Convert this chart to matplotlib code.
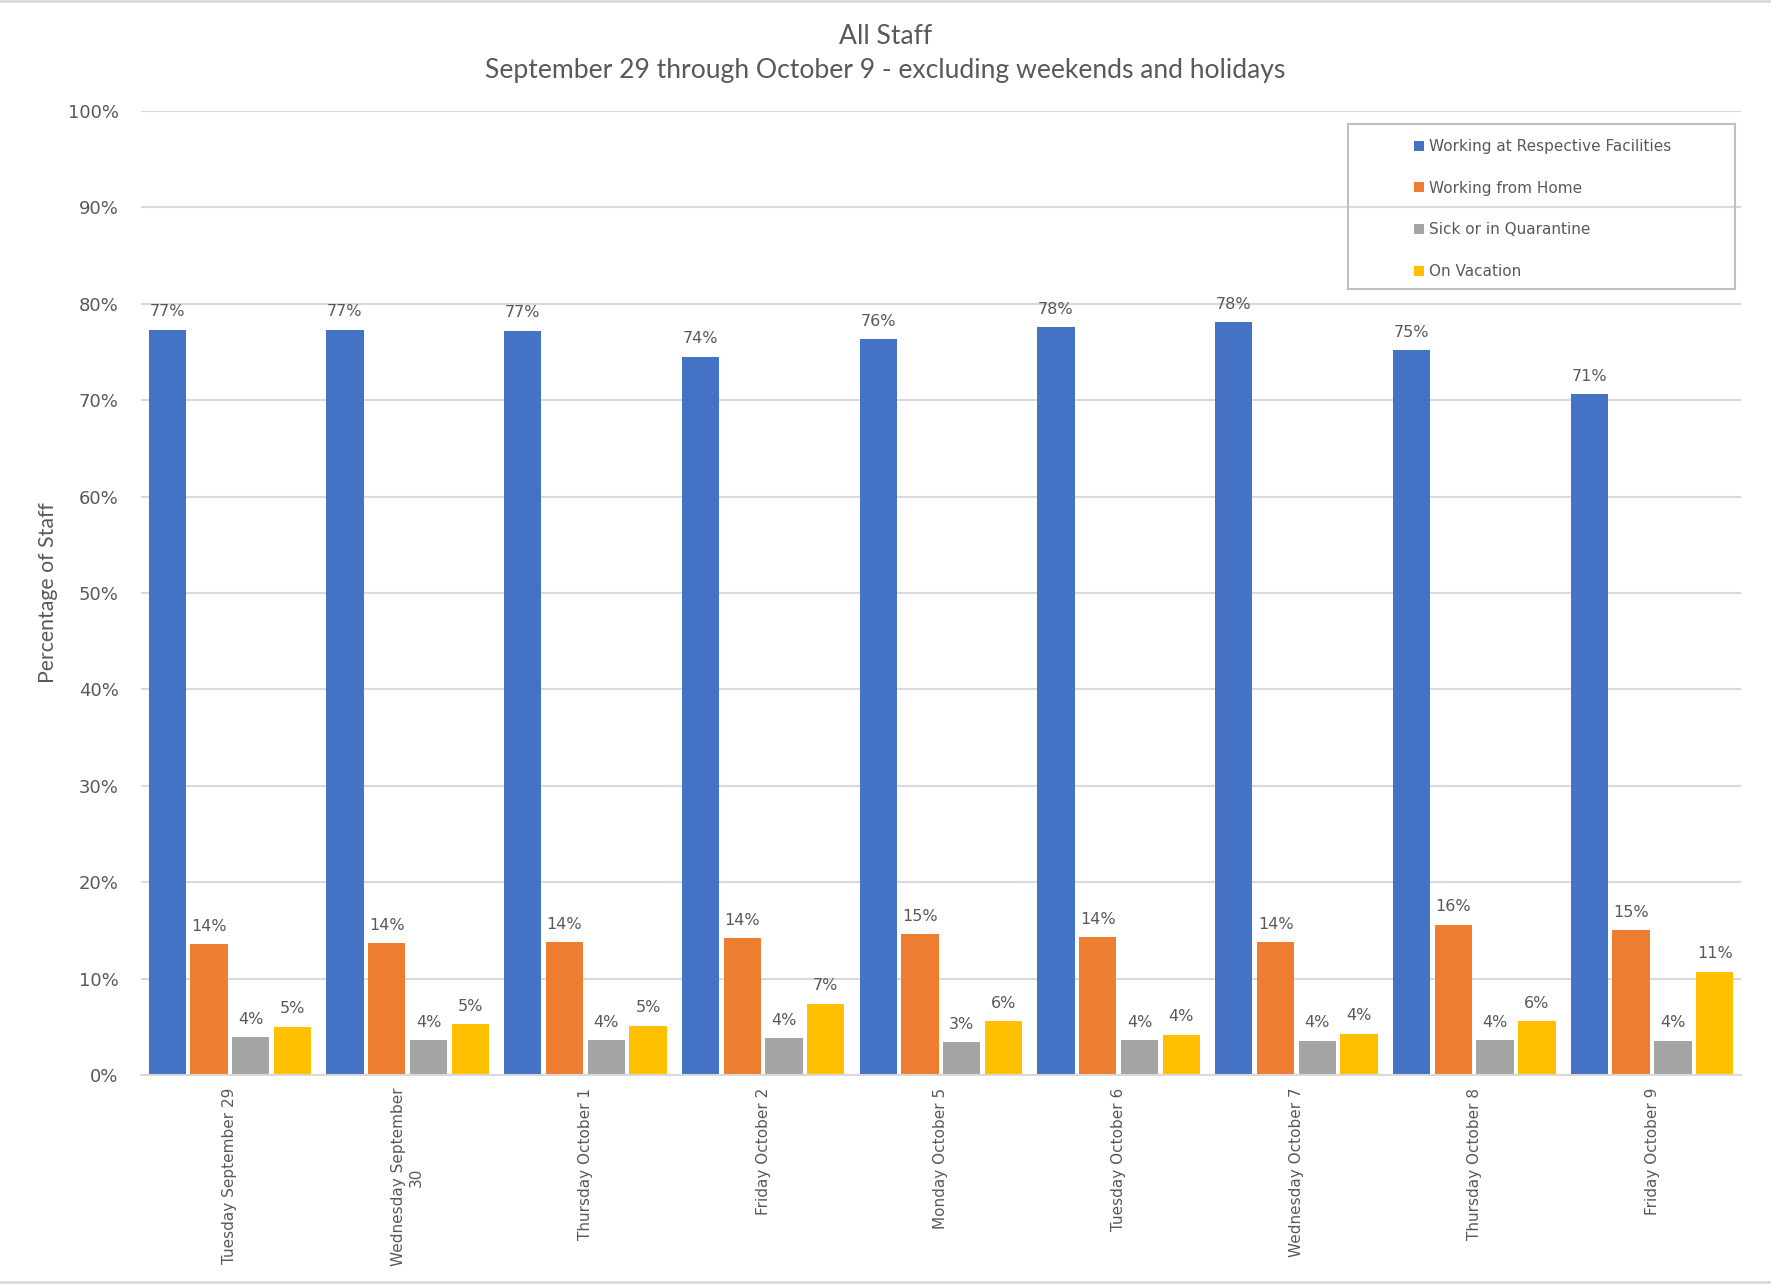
import matplotlib
matplotlib.use("Agg")
import matplotlib.pyplot as plt
from matplotlib.patches import Rectangle
import numpy as np

# Staff status by working day (percent of all staff)
days = [
    "Tuesday September 29",
    "Wednesday September\n30",
    "Thursday October 1",
    "Friday October 2",
    "Monday October 5",
    "Tuesday October 6",
    "Wednesday October 7",
    "Thursday October 8",
    "Friday October 9",
]
series_names = [
    "Working at Respective Facilities",
    "Working from Home",
    "Sick or in Quarantine",
    "On Vacation",
]
at_facilities = [77.3, 77.3, 77.2, 74.5, 76.3, 77.6, 78.1, 75.2, 70.6]
from_home = [13.6, 13.7, 13.8, 14.2, 14.6, 14.3, 13.8, 15.6, 15.0]
sick_quarantine = [3.9, 3.6, 3.6, 3.8, 3.4, 3.6, 3.55, 3.6, 3.55]
on_vacation = [5.0, 5.3, 5.1, 7.4, 5.6, 4.2, 4.3, 5.6, 10.7]
y_ticks = [0, 10, 20, 30, 40, 50, 60, 70, 80, 90, 100]

colors = ["#4472C4", "#ED7D31", "#A5A5A5", "#FFC000"]
text_color = "#595959"
grid_color = "#D9D9D9"

fig = plt.figure(figsize=(17.71, 12.85), dpi=100)
ax = fig.add_axes([0.0796, 0.1634, 0.9034, 0.7502])

x = np.arange(len(days))
bar_w = 0.21
step = 0.235
all_series = [at_facilities, from_home, sick_quarantine, on_vacation]
for i, (vals, name, col) in enumerate(zip(all_series, series_names, colors)):
    pos = x + (i - 1.5) * step
    bars = ax.bar(pos, vals, width=bar_w, color=col, label=name, zorder=3)
    for b, v in zip(bars, vals):
        ax.annotate(f"{v:.0f}%", (b.get_x() + b.get_width() / 2, v),
                    xytext=(0, 7.5), textcoords="offset points",
                    ha="center", va="bottom", fontsize=11.5,
                    color=text_color, family="DejaVu Sans")

ax.set_xlim(-0.5, len(days) - 0.5)
ax.set_ylim(0, 100)
ax.set_yticks(y_ticks)
ax.set_yticklabels([f"{t}%" for t in y_ticks], fontsize=13, color=text_color,
                   family="DejaVu Sans")
ax.yaxis.grid(True, color=grid_color, linewidth=1.5, zorder=0)
ax.set_xticks(x)
ax.set_xticklabels(days, rotation=90, fontsize=11, color=text_color,
                   family="DejaVu Sans", va="top", ha="center",
                   linespacing=1.25, multialignment="center")
ax.tick_params(axis="both", length=0)
ax.tick_params(axis="x", pad=9)
ax.tick_params(axis="y", pad=16)
for s in ["top", "right", "left"]:
    ax.spines[s].set_visible(False)
ax.spines["bottom"].set_color(grid_color)
ax.spines["bottom"].set_linewidth(1.5)
ax.spines["bottom"].set_zorder(4)

ax.set_ylabel("Percentage of Staff", fontsize=15.3, color=text_color,
              family="Lato", labelpad=7)

fig.text(0.5, 0.9715, "All Staff", ha="center", va="center",
         fontsize=19.1, color=text_color, family="Lato")
fig.text(0.5, 0.9455, "September 29 through October 9 - excluding weekends and holidays",
         ha="center", va="center", fontsize=19.1, color=text_color, family="Lato")

# legend entries without frame; the box is drawn separately so it can be wider
leg = fig.legend(loc="upper left", bbox_to_anchor=(1414 / 1771, 1 - 139 / 1285),
                 fontsize=11, labelcolor=text_color, frameon=False,
                 handlelength=0.65, handleheight=0.65, handletextpad=0.3,
                 labelspacing=1.75, borderpad=0, borderaxespad=0)
fig.add_artist(Rectangle((1348 / 1771, 1 - 289 / 1285), 387 / 1771, 165 / 1285,
                         transform=fig.transFigure, fill=False,
                         edgecolor="#BFBFBF", linewidth=1.5))

# thin frame lines at top and bottom of the chart area
fig.add_artist(plt.Line2D([0, 1], [0.999, 0.999], color=grid_color, lw=2,
                          transform=fig.transFigure))
fig.add_artist(plt.Line2D([0, 1], [0.002, 0.002], color=grid_color, lw=2,
                          transform=fig.transFigure))

fig.savefig("out.png", dpi=100, facecolor="white")
